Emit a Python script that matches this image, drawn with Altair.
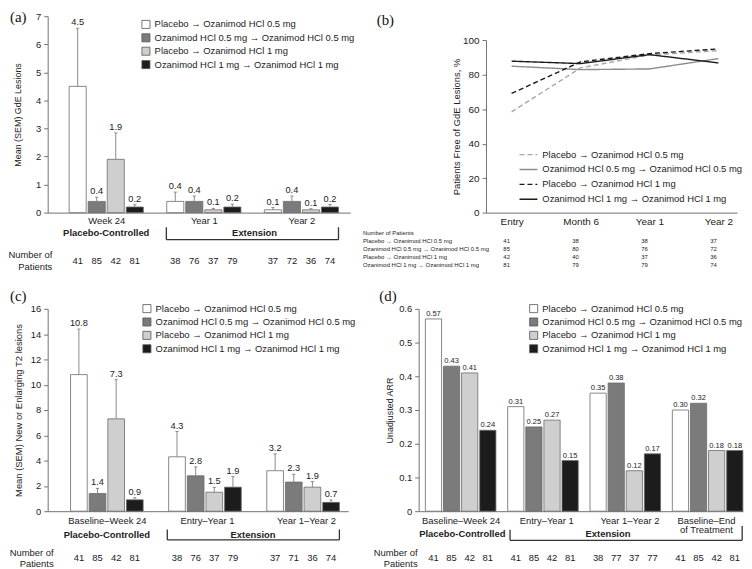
import json
import altair as alt
import pandas as pd

FONT = "Liberation Sans"
SERIF = "Liberation Serif"
TXT = "#222222"
AX = "#707070"

series = ["Placebo → Ozanimod HCl 0.5 mg",
          "Ozanimod HCl 0.5 mg → Ozanimod HCl 0.5 mg",
          "Placebo → Ozanimod HCl 1 mg",
          "Ozanimod HCl 1 mg → Ozanimod HCl 1 mg"]
bar_fill = ["#ffffff", "#7b7b7b", "#cfcfcf", "#1c1c1c"]
line_color = ["#a8a8a8", "#8c8c8c", "#1a1a1a", "#1a1a1a"]
line_dash = [[5, 3], [1, 0], [5, 3], [1, 0]]

# (a) GdE lesions
a_periods = ["Week 24", "Year 1", "Year 2"]
a_mean = [[4.5, 0.4, 1.9, 0.2], [0.4, 0.4, 0.1, 0.2], [0.1, 0.4, 0.1, 0.2]]
a_sem = [[2.07, 0.15, 0.94, 0.08], [0.33, 0.19, 0.05, 0.10], [0.08, 0.19, 0.04, 0.09]]
a_n = [[41, 85, 42, 81], [38, 76, 37, 79], [37, 72, 36, 74]]

# (b) patients free of GdE lesions
b_times = ["Entry", "Month 6", "Year 1", "Year 2"]
b_pct = [[58.5, 84.0, 91.5, 94.0],
         [85.0, 83.0, 83.4, 89.4],
         [69.2, 87.5, 92.3, 95.0],
         [87.9, 86.5, 91.7, 86.9]]
b_n = [[41, 38, 38, 37], [85, 80, 76, 72], [42, 40, 37, 36], [81, 79, 79, 74]]

# (c) new or enlarging T2 lesions
c_periods = ["Baseline–Week 24", "Entry–Year 1", "Year 1–Year 2"]
c_mean = [[10.8, 1.4, 7.3, 0.9], [4.3, 2.8, 1.5, 1.9], [3.2, 2.3, 1.9, 0.7]]
c_sem = [[3.6, 0.4, 3.1, 0.17], [2.0, 0.7, 0.38, 0.83], [1.33, 0.62, 0.44, 0.19]]
c_n = [[41, 85, 42, 81], [38, 76, 37, 79], [37, 71, 36, 74]]

# (d) unadjusted ARR
d_periods = [["Baseline–Week 24"], ["Entry–Year 1"], ["Year 1–Year 2"], ["Baseline–End", "of Treatment"]]
d_arr = [[0.57, 0.43, 0.41, 0.24], [0.31, 0.25, 0.27, 0.15], [0.35, 0.38, 0.12, 0.17], [0.30, 0.32, 0.18, 0.18]]
d_n = [[41, 85, 42, 81], [41, 85, 42, 81], [38, 77, 37, 77], [41, 85, 42, 81]]

sections = ["Placebo-Controlled", "Extension"]


def txt_layer(text, x, y, **kw):
    return alt.Chart(pd.DataFrame({"t": [text]})).mark_text(**kw).encode(
        x=alt.value(x), y=alt.value(y), text="t:N")


def bar_panel(letter, periods, means, sems, ns, W, H, xdom, step, bw,
              ydom, yvals, ylabelexpr, ytitle, ytsize, ytpad, vfmt, vsize,
              xlpad, sec_x, sec_y, br, num_x, num_mid, num_lh, pat_y, leg_x, leg_y,
              let_xy, label_pos=None):
    rows = []
    for gi in range(len(periods)):
        for si, s in enumerate(series):
            xc = gi + (si - 1.5) * step
            m = means[gi][si]
            e = sems[gi][si] if sems else 0.0
            rows.append(dict(series=s, xc=xc, x0=xc - bw / 2, x1=xc + bw / 2,
                             c0=xc - 0.016, c1=xc + 0.016, zero=0.0,
                             mean=m, top=m + e, n=ns[gi][si]))
    df = pd.DataFrame(rows)
    base = alt.Chart(df)
    if label_pos is None:
        label_pos = list(range(len(periods)))
    xaxis = alt.Axis(values=label_pos,
                     labelExpr=json.dumps(periods) + "[indexof(" + json.dumps(label_pos)
                     + ", datum.value)]",
                     title=None, ticks=False, grid=False, labelPadding=xlpad,
                     labelFontSize=9.5, labelFlush=False, labelOverlap=False,
                     labelBound=False, domainColor=AX, labelColor=TXT,
                     labelLineHeight=10)
    xscale = alt.Scale(domain=xdom, nice=False, zero=False)
    yaxis_kw = dict(values=yvals, title=ytitle, titleFontSize=ytsize,
                    titlePadding=ytpad, titleFontWeight="normal", titleColor=TXT,
                    grid=False, tickSize=4, labelPadding=3, labelFontSize=9.5,
                    domainColor=AX, tickColor=AX, labelColor=TXT,
                    labelFlush=False, labelOverlap=False)
    if ylabelexpr:
        yaxis_kw["labelExpr"] = ylabelexpr
    yaxis = alt.Axis(**yaxis_kw)
    yscale = alt.Scale(domain=ydom, nice=False, zero=True)

    def X(f):
        return alt.X(f, type="quantitative", scale=xscale, axis=xaxis)

    def Y(f):
        return alt.Y(f, type="quantitative", scale=yscale, axis=yaxis)

    legend = alt.Legend(title=None, orient="none", legendX=leg_x, legendY=leg_y,
                        symbolType="square", symbolSize=66, symbolStrokeColor="#555555",
                        symbolStrokeWidth=0.8, labelFontSize=9.5, labelColor=TXT,
                        rowPadding=1.5, labelOffset=4, padding=0, labelLimit=400)
    layers = []
    layers.append(base.mark_bar(stroke="#6a6a6a", strokeWidth=0.8).encode(
        x=X("x0"), x2="x1:Q", y=Y("mean"), y2="zero:Q",
        color=alt.Color("series:N", scale=alt.Scale(domain=series, range=bar_fill),
                        legend=legend)))
    if sems:
        layers.append(base.mark_rule(color="#8a8a8a", strokeWidth=1).encode(
            x=X("xc"), y=Y("mean"), y2="top:Q"))
        layers.append(base.mark_rule(color="#8a8a8a", strokeWidth=1).encode(
            x=X("c0"), x2="c1:Q", y=Y("top")))
    layers.append(base.mark_text(baseline="bottom", dy=-1, fontSize=vsize, color=TXT).encode(
        x=X("xc"), y=Y("top"), text=alt.Text("mean:Q", format=vfmt)))
    layers.append(base.mark_text(fontSize=9.5, color=TXT, baseline="middle").encode(
        x=X("xc"), y=alt.value(H + pat_y), text="n:Q"))
    # section labels
    sdf = pd.DataFrame({"t": sections, "x": sec_x})
    layers.append(alt.Chart(sdf).mark_text(fontSize=9.5, fontWeight="bold", color=TXT,
                                           baseline="middle").encode(
        x=X("x"), y=alt.value(H + sec_y), text="t:N"))
    # extension bracket
    bdf = pd.DataFrame({"x0": [br["x0"]], "x1": [br["x1"]]})
    bk = dict(color="#333333", strokeWidth=1.3)
    layers.append(alt.Chart(bdf).mark_rule(**bk).encode(
        x=X("x0"), x2="x1:Q", y=alt.value(H + br["yb"])))
    layers.append(alt.Chart(bdf).mark_rule(**bk).encode(
        x=X("x0"), y=alt.value(H + br["yl"]), y2=alt.value(H + br["yb"])))
    layers.append(alt.Chart(bdf).mark_rule(**bk).encode(
        x=X("x1"), y=alt.value(H + br["yr"]), y2=alt.value(H + br["yb"])))
    layers.append(txt_layer("Number of\nPatients", num_x, H + num_mid, align="right",
                            baseline="middle", lineBreak="\n", lineHeight=num_lh,
                            fontSize=9.5, color=TXT))
    layers.append(txt_layer(letter, let_xy[0], let_xy[1], font=SERIF, fontSize=15,
                            align="left", baseline="top", color="#111111"))
    return alt.layer(*layers).properties(width=W, height=H)


H1 = 198
H2 = 204

panel_a = bar_panel(
    "(a)", a_periods, a_mean, a_sem, a_n, 305, H1, [-0.6, 2.5], 0.195, 0.175,
    [0, 7], list(range(8)), None, "Mean (SEM) GdE Lesions", 9, 13, ".1f", 9.3,
    3, [0, 1.52], 20.3, dict(x0=0.616, x1=2.38, yl=14.8, yr=14.8, yb=27.3),
    4.7, 43, 11.7, 48.8, 94.3, 3.5, (-38, -6))

panel_c = bar_panel(
    "(c)", c_periods, c_mean, c_sem, c_n, 303, H2, [-0.603, 2.46], 0.19, 0.17,
    [0, 16], list(range(0, 17, 2)), None, "Mean (SEM) New or Enlarging T2 lesions",
    9.5, 7, ".1f", 9.3, 4, [0, 1.49], 23.8,
    dict(x0=0.616, x1=2.37, yl=18.4, yr=18.4, yb=29),
    6, 41.8, 11.5, 47.5, 95.3, -5, (-38, -20), [0, 1.02, 2.03])

panel_d = bar_panel(
    "(d)", d_periods, d_arr, None, d_n, 327, H2, [-0.51, 3.43], 0.22, 0.197,
    [0, 0.6], [0, 0.1, 0.2, 0.3, 0.4, 0.5, 0.6],
    "datum.value == 0 ? '0' : format(datum.value, '.1f')", "Unadjusted ARR",
    9, 4, ".2f", 7.6, 4, [0.02, 1.79], 23.5,
    dict(x0=0.6, x1=3.42, yl=18.8, yr=15, yb=29.4),
    -1, 41.8, 11.5, 47.5, 111.2, -5, (-39.7, -20), [0, 1.04, 2.05, 2.98])

# (b) line chart
b_rows = []
for si, s in enumerate(series):
    for ti in range(len(b_times)):
        b_rows.append(dict(series=s, ti=ti, pct=b_pct[si][ti], n=b_n[si][ti]))
bdf_all = pd.DataFrame(b_rows)
BW = 321
BOFF = 67.9
bxscale = alt.Scale(domain=[-0.371, 3.27], range=[BOFF, BW], nice=False, zero=False)
bxaxis = alt.Axis(values=[0, 1, 2, 3], labelExpr=json.dumps(b_times) + "[datum.value]",
                  title=None, ticks=False, grid=False, labelPadding=4, labelFontSize=10,
                  labelFlush=False, labelOverlap=False, domainColor=AX, labelColor=TXT)
byscale = alt.Scale(domain=[0, 100], range=[H1, 24.3], nice=False, zero=True)
byaxis = alt.Axis(values=[0, 20, 40, 60, 80, 100], offset=-BOFF,
                  title="Patients Free of GdE Lesions, %", titleFontSize=9.5,
                  titlePadding=1.5, titleFontWeight="normal", titleColor=TXT,
                  grid=False, tickSize=4, labelPadding=3, labelFontSize=10,
                  domainColor=AX, tickColor=AX, labelColor=TXT,
                  labelFlush=False, labelOverlap=False)
bleg = alt.Legend(title=None, orient="none", legendX=100.7, legendY=129.5,
                  symbolType="stroke", symbolSize=324, symbolStrokeWidth=1.4,
                  labelFontSize=9.5, labelColor=TXT, rowPadding=-3.4, labelOffset=4,
                  padding=0, labelLimit=400)
b_layers = [alt.Chart(bdf_all).mark_line(strokeWidth=1.4).encode(
    x=alt.X("ti:Q", scale=bxscale, axis=bxaxis),
    y=alt.Y("pct:Q", scale=byscale, axis=byaxis),
    color=alt.Color("series:N", scale=alt.Scale(domain=series, range=line_color), legend=bleg),
    strokeDash=alt.StrokeDash("series:N", scale=alt.Scale(domain=series, range=line_dash),
                              legend=bleg))]
tab_x = -56.2
b_layers.append(txt_layer("Number of Patients", tab_x, H1 + 20.5, align="left",
                          baseline="middle", fontSize=6, color=TXT))
for si, s in enumerate(series):
    yy = H1 + 28.8 + 8 * si
    b_layers.append(txt_layer(s, tab_x, yy, align="left", baseline="middle",
                              fontSize=6, color=TXT))
    b_layers.append(alt.Chart(bdf_all[bdf_all["series"] == s]).mark_text(
        fontSize=6, dx=-5, baseline="middle", color=TXT).encode(
        x=alt.X("ti:Q", scale=bxscale, axis=bxaxis), y=alt.value(yy), text="n:Q"))
b_layers.append(txt_layer("(b)", -42.3, -3.5, font=SERIF, fontSize=15, align="left",
                          baseline="top", color="#111111"))
panel_b = alt.layer(*b_layers).properties(width=BW, height=H1)

chart = alt.concat(panel_a, panel_b, panel_c, panel_d, columns=2,
                   spacing=alt.RowColnumber(row=97, column=69)).properties(
    align="none", bounds="flush", padding=0
).resolve_scale(color="independent", strokeDash="independent").resolve_legend(
    color="independent", strokeDash="independent"
).configure_view(stroke=None).configure_text(font=FONT).configure_axis(
    labelFont=FONT, titleFont=FONT).configure_legend(labelFont=FONT)

chart.save("out.html", embed_options={"renderer": "svg", "actions": False})
